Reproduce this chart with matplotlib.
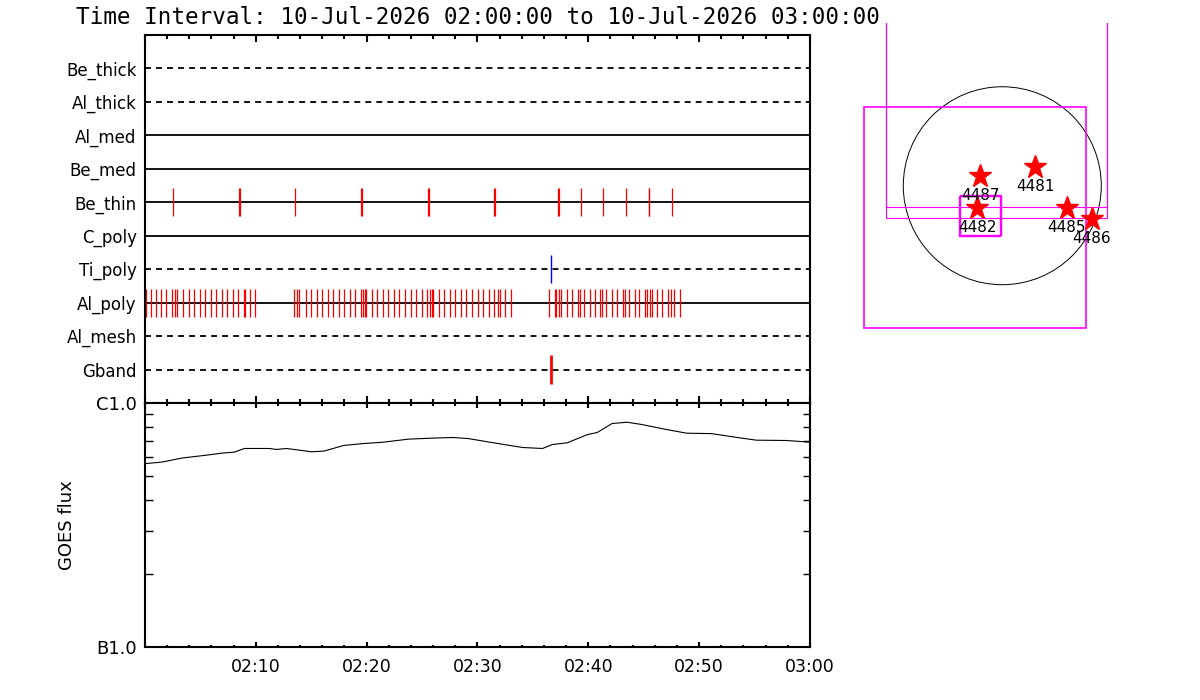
import numpy as np
import matplotlib
matplotlib.use("Agg")
import matplotlib.pyplot as plt
from matplotlib.patches import Rectangle, Circle
from matplotlib.ticker import MultipleLocator, FixedLocator, FuncFormatter, NullFormatter

# ---- data (minutes after 02:00) ----
channels = ["Be_thick", "Al_thick", "Al_med", "Be_med", "Be_thin",
            "C_poly", "Ti_poly", "Al_poly", "Al_mesh", "Gband"]
dashed = ["Be_thick", "Al_thick", "Ti_poly", "Al_mesh", "Gband"]

be_thin_t = [2.54, 8.50, 8.58, 13.57, 19.52, 19.60, 25.55, 25.63, 31.50, 31.58,
             37.24, 37.32, 39.38, 41.34, 43.44, 45.43, 45.51, 47.56]
ti_poly_t = [36.66]
gband_t = [36.60]
al_poly_t = [0.05, 0.51, 0.97, 1.47, 1.92, 2.46, 2.71, 2.91, 3.43, 3.94, 4.42,
             4.96, 5.44, 5.93, 6.43, 6.95, 7.43, 7.91, 8.42, 8.91, 9.00, 9.50, 9.95,
             13.47, 13.74, 13.94, 14.50, 15.01, 15.49, 16.01, 16.49, 16.99, 17.49,
             17.98, 18.50, 18.98, 19.46, 19.70, 19.82, 19.97, 20.51, 20.96, 21.47,
             21.95, 22.47, 22.95, 23.49, 23.97, 24.48, 24.99, 25.47, 25.74, 25.87,
             26.01, 26.50, 27.01, 27.49, 27.97, 28.49, 28.99, 29.53, 30.02, 30.52,
             31.01, 31.52, 31.88, 32.00, 32.51, 33.05,
             36.48, 36.99, 37.11, 37.38, 37.56, 38.08, 38.55, 39.04, 39.28, 39.64,
             40.12, 40.63, 41.08, 41.23, 41.62, 42.14, 42.61, 43.16, 43.31, 43.67,
             44.19, 44.60, 45.14, 45.32, 45.59, 45.77, 46.20, 46.68, 47.22, 47.49,
             47.76, 48.30]

goes_t = [0.0, 1.57, 3.36, 5.38, 6.95, 8.07, 8.97, 11.21, 11.88, 12.78, 13.90,
          15.02, 16.14, 17.94, 19.73, 21.52, 23.77, 26.01, 27.80, 29.15, 30.94,
          32.73, 34.08, 35.87, 36.77, 38.11, 39.91, 40.80, 42.15, 43.50, 44.84,
          47.08, 48.88, 51.12, 53.81, 55.16, 57.85, 60.0]
goes_flux = [5.64, 5.73, 5.95, 6.10, 6.23, 6.29, 6.51, 6.51, 6.45, 6.51, 6.41,
             6.31, 6.35, 6.70, 6.82, 6.91, 7.11, 7.18, 7.22, 7.15, 6.93,
             6.72, 6.57, 6.51, 6.76, 6.87, 7.42, 7.57, 8.24, 8.34, 8.16,
             7.78, 7.52, 7.49, 7.18, 7.04, 7.02, 6.91]  # x 1e-7 W/m^2

# active regions on the disk (arcsec)
ar_num = ["4487", "4481", "4482", "4485", "4486"]
ar_x = [-216, 320, -245, 625, 870]
ar_y = [94, 181, -219, -213, -320]

title = "Time Interval: 10-Jul-2026 02:00:00 to 10-Jul-2026 03:00:00"

plt.rcParams['font.family'] = ['DejaVu Sans']

fig = plt.figure(figsize=(12, 7), dpi=100)
ax1 = fig.add_axes([0.1208, 0.4243, 0.5542, 0.5257])
ax2 = fig.add_axes([0.1208, 0.0757, 0.5542, 0.3486])
ax3 = fig.add_axes([0.7083, 0.5071, 0.25, 0.46])

# ---- event panel ----
rows = {c: len(channels) - i for i, c in enumerate(channels)}
for c in channels:
    ls = (0, (3.3, 2.8)) if c in dashed else '-'
    ax1.axhline(rows[c], color='k', lw=1.3, ls=ls, zorder=1)

h = 0.42
ax1.vlines(al_poly_t, rows["Al_poly"] - h, rows["Al_poly"] + h, color='red', lw=0.9, zorder=2)
ax1.vlines(be_thin_t, rows["Be_thin"] - h, rows["Be_thin"] + h, color='red', lw=0.9, zorder=2)
ax1.vlines(ti_poly_t, rows["Ti_poly"] - h, rows["Ti_poly"] + h, color='blue', lw=1.0, zorder=2)
ax1.vlines(gband_t, rows["Gband"] - h, rows["Gband"] + h, color='red', lw=2.0, zorder=2)

ax1.set_xlim(0, 60)
ax1.set_ylim(0, 11)
ax1.set_yticks([rows[c] for c in channels])
ax1.set_yticklabels(channels, fontsize=12)
ax1.tick_params(axis='y', length=0, pad=6)
ax1.xaxis.set_major_locator(MultipleLocator(10))
ax1.xaxis.set_minor_locator(MultipleLocator(2))
ax1.tick_params(axis='x', which='both', direction='in', top=True, bottom=True,
                labelbottom=False, width=1.5)
ax1.tick_params(axis='x', which='major', length=5.3)
ax1.tick_params(axis='x', which='minor', length=2.7)
ax1.set_title(title, fontsize=16.3, pad=8, family='DejaVu Sans Mono')

# ---- GOES panel ----
ax2.plot(goes_t, np.array(goes_flux) * 1e-7, color='k', lw=0.8)
ax2.set_yscale('log')
ax2.set_ylim(1e-7, 1e-6)
ax2.set_xlim(0, 60)
ax2.yaxis.set_major_locator(FixedLocator([1e-7, 1e-6]))
ax2.yaxis.set_major_formatter(FuncFormatter(lambda v, p: "B1.0" if v < 5e-7 else "C1.0"))
ax2.yaxis.set_minor_locator(FixedLocator([k * 1e-7 for k in range(2, 10)]))
ax2.yaxis.set_minor_formatter(NullFormatter())
ax2.tick_params(axis='y', which='both', direction='in', left=True, right=True,
                width=1.0, labelsize=13, pad=6)
ax2.tick_params(axis='y', which='minor', length=5.4)
ax2.tick_params(axis='y', which='major', length=0)
ax2.xaxis.set_major_locator(MultipleLocator(10))
ax2.xaxis.set_minor_locator(MultipleLocator(2))
ax2.xaxis.set_major_formatter(FuncFormatter(
    lambda m, p: "" if m < 1 else "%02d:%02d" % (2 + int(round(m)) // 60, int(round(m)) % 60)))
ax2.tick_params(axis='x', which='both', direction='in', top=True, bottom=True,
                width=1.5, labelsize=12.5, pad=8)
ax2.tick_params(axis='x', which='major', length=3.5)
ax2.tick_params(axis='x', which='minor', length=1.8)
ax2.set_ylabel("GOES flux", fontsize=13)
ax2.yaxis.set_label_coords(-0.104, 0.5)

for ax in (ax1, ax2):
    for s in ax.spines.values():
        s.set_linewidth(1.5)

# ---- solar disk panel ----
ax3.set_xlim(-1477, 1432)
ax3.set_ylim(-1545, 1578)
ax3.set_axis_off()
ax3.add_patch(Circle((0, 0), 960, fill=False, ec='k', lw=0.7))
ax3.add_patch(Rectangle((-1131, -310), 2149, 3000, fill=False, ec='magenta', lw=0.8))
ax3.add_patch(Rectangle((-1131, -209), 2149, 3000, fill=False, ec='magenta', lw=0.8))
ax3.add_patch(Rectangle((-1344, -1380), 2159, 2146, fill=False, ec='magenta', lw=1.2))
ax3.add_patch(Rectangle((-423, -491), 401, 391, fill=False, ec='magenta', lw=1.0))
ax3.add_patch(Rectangle((-410, -478), 401, 391, fill=False, ec='magenta', lw=1.0))
ax3.plot(ar_x, ar_y, ls='none', marker='*', ms=17, color='red', mec='red')
for n, x, y in zip(ar_num, ar_x, ar_y):
    ax3.annotate(n, (x, y), xytext=(0, -14), textcoords='offset points',
                 ha='center', va='center', fontsize=11)

fig.savefig("out.png", dpi=100)
